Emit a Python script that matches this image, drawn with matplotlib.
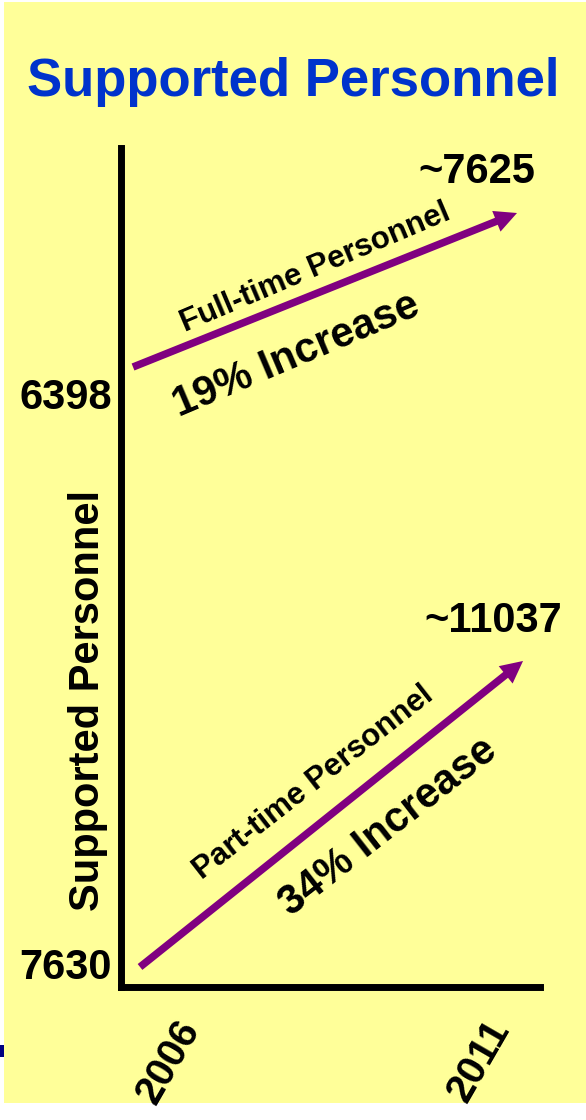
import matplotlib
matplotlib.use("Agg")
import matplotlib.pyplot as plt
from matplotlib.patches import Rectangle

plt.rcParams['font.family'] = ['Liberation Sans', 'DejaVu Sans']
plt.rcParams['font.weight'] = 'bold'

# data
years = [2006, 2011]
full_time = [6398, 7625]
part_time = [7630, 11037]
series_names = ['Full-time Personnel', 'Part-time Personnel']
increase_labels = ['19% Increase', '34% Increase']
end_labels = ['~7625', '~11037']
start_labels = ['6398', '7630']

W, H = 586, 1120
purple = '#800080'

fig = plt.figure(figsize=(W / 100, H / 100), dpi=100)
fig.patch.set_facecolor('white')
# slide background + little navy fragment at the left edge
fig.patches.append(Rectangle((4 / W, 17 / H), 582 / W, 1101 / H, transform=fig.transFigure,
                             facecolor='#FFFF99', edgecolor='none', zorder=-10))
fig.patches.append(Rectangle((0, (H - 1057) / H), 4 / W, 12 / H, transform=fig.transFigure,
                             facecolor='#000080', edgecolor='none', zorder=-9))

fig.text(0.5, 1 - 96 / H, 'Supported Personnel', ha='center', va='baseline',
         fontsize=38, fontweight='bold', color='#0033CC')

rect = [120.5 / W, (H - 987) / H, 419 / W, 838.5 / H]

# main axes: spines, tick labels
ax = fig.add_axes(rect, label='main')
ax.patch.set_alpha(0)
ax.spines['top'].set_visible(False)
ax.spines['right'].set_visible(False)
for s in ['left', 'bottom']:
    ax.spines[s].set_linewidth(5)
    ax.spines[s].set_capstyle('projecting')
ax.set_xlim(2005.227, 2011.974)
ax.set_xticks(years)
ax.set_xticklabels([str(y) for y in years], rotation=60, ha='center',
                   fontsize=29, fontweight='bold')
ax.tick_params(axis='x', length=0, pad=19)
ax.set_ylim(7680, 5870)
ax.set_yticks([full_time[0], part_time[0]])
ax.set_yticklabels(start_labels, fontsize=30, fontweight='bold')
ax.tick_params(axis='y', length=0, pad=6)
ax.set_ylabel('Supported Personnel', fontsize=30, fontweight='bold')
ax.yaxis.set_label_coords(-0.0298, 0.342)

# one invisible axes per series, each with its own scale
series = [full_time, part_time]
xlims = [(2005.837, 2011.293), (2005.745, 2011.215)]
ylims = [(1458, 8139), (7407, 16743)]
text_rot = [23, 38]
name_off = [(-10, 22), (-18.5, 31)]
inc_off = [(-29, -65), (56.5, -13)]
end_off = [(18, 30), (39, 29)]

for i, vals in enumerate(series):
    a = fig.add_axes(rect, label='s%d' % i)
    a.set_axis_off()
    a.set_xlim(*xlims[i])
    a.set_ylim(*ylims[i])
    a.annotate('', xy=(years[1], vals[1]), xytext=(years[0], vals[0]),
               arrowprops=dict(arrowstyle='simple,head_length=0.8,head_width=0.8,tail_width=0.27',
                               mutation_scale=20, facecolor=purple, edgecolor='none',
                               shrinkA=0, shrinkB=0))
    mx = (years[0] + years[1]) / 2
    my = (vals[0] + vals[1]) / 2
    a.annotate(series_names[i], xy=(mx, my), xytext=name_off[i], textcoords='offset pixels',
               rotation=text_rot[i], rotation_mode='anchor', ha='center', va='center',
               fontsize=22.5, fontweight='bold')
    a.annotate(increase_labels[i], xy=(mx, my), xytext=inc_off[i], textcoords='offset pixels',
               rotation=text_rot[i], rotation_mode='anchor', ha='center', va='center',
               fontsize=30, fontweight='bold')
    a.annotate(end_labels[i], xy=(years[1], vals[1]), xytext=end_off[i],
               textcoords='offset pixels', ha='right', va='baseline',
               fontsize=30, fontweight='bold')

fig.savefig('out.png', dpi=100, facecolor=fig.get_facecolor())
